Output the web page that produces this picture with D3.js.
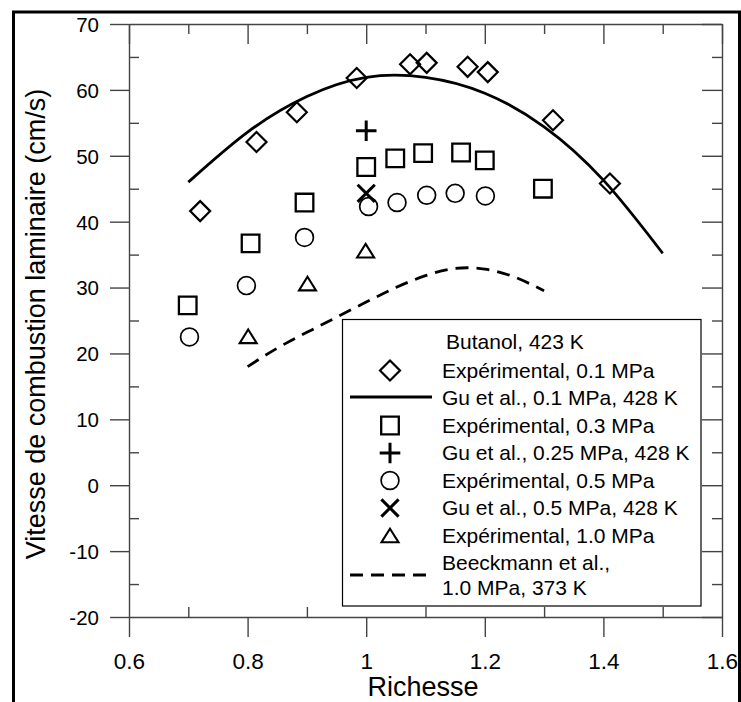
<!DOCTYPE html>
<html>
<head>
<meta charset="utf-8">
<script src="https://cdn.jsdelivr.net/npm/d3@7"></script>
<style>
  html, body { margin: 0; padding: 0; background: #fff; }
  svg { display: block; }
  text { font-family: "Liberation Sans", Arial, Helvetica, sans-serif; fill: #000; }
</style>
</head>
<body>
<svg id="chart" width="741" height="702"></svg>
<script>
// Richesse (equivalence ratio) and laminar burning velocity (cm/s), butanol at 423 K
const expPhi01 = [0.72, 0.815, 0.883, 0.984, 1.074, 1.102, 1.171, 1.205, 1.315, 1.411];
const expSu01  = [41.6, 52.1, 56.6, 61.8, 63.9, 64.1, 63.5, 62.7, 55.4, 45.8];

const guPhi01 = [0.7, 0.8, 0.9, 1.0, 1.1, 1.2, 1.3, 1.4, 1.5];
const guSu01  = [46.0, 53.6, 59.0, 61.9, 61.9, 59.5, 54.4, 46.3, 35.2];

const expPhi03 = [0.699, 0.805, 0.896, 1.0, 1.049, 1.096, 1.16, 1.2, 1.298];
const expSu03  = [27.3, 36.7, 42.9, 48.3, 49.6, 50.4, 50.5, 49.3, 45.0];

const guPhi025 = [1.0];
const guSu025  = [53.8];

const expPhi05 = [0.702, 0.798, 0.896, 1.004, 1.052, 1.102, 1.15, 1.201];
const expSu05  = [22.5, 30.3, 37.6, 42.3, 42.9, 44.0, 44.3, 43.9];

const guPhi05 = [1.0];
const guSu05  = [44.3];

const expPhi10 = [0.801, 0.901, 0.999];
const expSu10  = [22.6, 30.6, 35.6];

const beePhi10 = [0.8, 0.85, 0.9, 0.95, 1.0, 1.05, 1.1, 1.15, 1.2, 1.25, 1.3];
const beeSu10  = [18.0, 20.8, 23.2, 25.5, 27.8, 30.0, 31.8, 32.9, 32.8, 31.6, 29.5];

const xTicks = [0.6, 0.8, 1.0, 1.2, 1.4, 1.6];
const xMinor = [0.7, 0.9, 1.1, 1.3, 1.5];
const yTicks = [-20, -10, 0, 10, 20, 30, 40, 50, 60, 70];
const yMinor = [-15, -5, 5, 15, 25, 35, 45, 55, 65];
const xTickLabels = ["0.6", "0.8", "1", "1.2", "1.4", "1.6"];
const yTickLabels = ["-20", "-10", "0", "10", "20", "30", "40", "50", "60", "70"];

const legendTitle = "Butanol, 423 K";
const legendLabels = [
  "Expérimental, 0.1 MPa",
  "Gu et al., 0.1 MPa, 428 K",
  "Expérimental, 0.3 MPa",
  "Gu et al., 0.25 MPa, 428 K",
  "Expérimental, 0.5 MPa",
  "Gu et al., 0.5 MPa, 428 K",
  "Expérimental, 1.0 MPa",
  ["Beeckmann et al.,", "1.0 MPa, 373 K"]
];

const xTitle = "Richesse";
const yTitle = "Vitesse de combustion laminaire (cm/s)";

// ---- layout ----
const svg = d3.select("#chart");
const plotL = 129, plotR = 722, plotT = 24, plotB = 617;
const x = d3.scaleLinear().domain([0.6, 1.6]).range([plotL, plotR]);
const y = d3.scaleLinear().domain([-20, 70]).range([plotB, plotT]);

// outer frame
svg.append("rect")
  .attr("x", 13.5).attr("y", 12).attr("width", 726).attr("height", 710)
  .attr("fill", "none").attr("stroke", "#000").attr("stroke-width", 3);

const axisColor = "#444";
function styleAxis(g) {
  g.selectAll("path.domain").attr("stroke", axisColor).attr("stroke-width", 1.4);
  g.selectAll(".tick line").attr("stroke", axisColor).attr("stroke-width", 1.4);
}
const axes = svg.append("g");

// left axis: outward majors with labels, inward minors
const gL = axes.append("g").attr("transform", `translate(${plotL},0)`)
  .call(d3.axisLeft(y).tickValues(yTicks).tickSizeInner(19).tickSizeOuter(0).tickPadding(11)
    .tickFormat((d, i) => yTickLabels[i]));
gL.selectAll(".tick text").attr("font-size", 20.5).attr("dy", "0.36em")
  .attr("font-family", "Liberation Sans, Arial, sans-serif");
axes.append("g").attr("transform", `translate(${plotL},0)`)
  .call(d3.axisLeft(y).tickValues(yMinor).tickSizeInner(-10).tickSizeOuter(0).tickFormat(""))
  .call(g => g.select("path.domain").remove());

// bottom axis
const gB = axes.append("g").attr("transform", `translate(0,${plotB})`)
  .call(d3.axisBottom(x).tickValues(xTicks).tickSizeInner(20).tickSizeOuter(0).tickPadding(16)
    .tickFormat((d, i) => xTickLabels[i]));
gB.selectAll(".tick text").attr("font-size", 22.5).attr("dy", "0.71em")
  .attr("font-family", "Liberation Sans, Arial, sans-serif");
axes.append("g").attr("transform", `translate(0,${plotB})`)
  .call(d3.axisBottom(x).tickValues(xMinor).tickSizeInner(-10).tickSizeOuter(0).tickFormat(""))
  .call(g => g.select("path.domain").remove());

// top axis: all ticks inward
axes.append("g").attr("transform", `translate(0,${plotT})`)
  .call(d3.axisTop(x).tickValues(xTicks).tickSizeInner(-20).tickSizeOuter(0).tickFormat(""));
axes.append("g").attr("transform", `translate(0,${plotT})`)
  .call(d3.axisTop(x).tickValues(xMinor).tickSizeInner(-10).tickSizeOuter(0).tickFormat(""))
  .call(g => g.select("path.domain").remove());

// right axis: all ticks inward
axes.append("g").attr("transform", `translate(${plotR},0)`)
  .call(d3.axisRight(y).tickValues(yTicks).tickSizeInner(-20).tickSizeOuter(0).tickFormat(""));
axes.append("g").attr("transform", `translate(${plotR},0)`)
  .call(d3.axisRight(y).tickValues(yMinor).tickSizeInner(-10).tickSizeOuter(0).tickFormat(""))
  .call(g => g.select("path.domain").remove());

axes.selectAll("g").call(styleAxis);

// axis titles
svg.append("text")
  .attr("x", 423).attr("y", 696)
  .attr("text-anchor", "middle").attr("font-size", 27)
  .text(xTitle);
svg.append("text")
  .attr("transform", `translate(45,324) rotate(-90)`)
  .attr("text-anchor", "middle").attr("font-size", 27)
  .text(yTitle);

// ---- marker shapes (centred on 0,0) ----
const shapes = {
  diamond: () => { const p = d3.path(), r = 10; p.moveTo(0, -r); p.lineTo(r, 0); p.lineTo(0, r); p.lineTo(-r, 0); p.closePath(); return p.toString(); },
  square: () => { const p = d3.path(), h = 8.8; p.rect(-h, -h, 2 * h, 2 * h); return p.toString(); },
  circle: () => { const p = d3.path(); p.arc(0, 0, 8.9, 0, 2 * Math.PI); return p.toString(); },
  triangle: () => { const p = d3.path(), w = 8.5, h = 6.8; p.moveTo(0, -h); p.lineTo(w, h); p.lineTo(-w, h); p.closePath(); return p.toString(); },
  plus: () => { const p = d3.path(), r = 10.3; p.moveTo(-r, 0); p.lineTo(r, 0); p.moveTo(0, -r); p.lineTo(0, r); return p.toString(); },
  cross: () => { const p = d3.path(), r = 8.6; p.moveTo(-r, -r); p.lineTo(r, r); p.moveTo(-r, r); p.lineTo(r, -r); return p.toString(); }
};
const strokeW = { diamond: 2.2, square: 2.3, circle: 1.7, triangle: 2.1, plus: 3, cross: 3 };

function drawMarkers(phi, su, shape) {
  svg.append("g").selectAll("path")
    .data(phi.map((p, i) => ({ p, s: su[i] })))
    .join("path")
    .attr("transform", d => `translate(${x(d.p)},${y(d.s)})`)
    .attr("d", shapes[shape]())
    .attr("fill", "none").attr("stroke", "#000")
    .attr("stroke-width", strokeW[shape]);
}

// curves
const line = d3.line().x(d => x(d.p)).y(d => y(d.s)).curve(d3.curveNatural);
svg.append("path")
  .datum(guPhi01.map((p, i) => ({ p, s: guSu01[i] })))
  .attr("d", line).attr("fill", "none").attr("stroke", "#000").attr("stroke-width", 2.8);
svg.append("path")
  .datum(beePhi10.map((p, i) => ({ p, s: beeSu10[i] })))
  .attr("d", line).attr("fill", "none").attr("stroke", "#000").attr("stroke-width", 2.8)
  .attr("stroke-dasharray", "13,8");

drawMarkers(expPhi01, expSu01, "diamond");
drawMarkers(expPhi03, expSu03, "square");
drawMarkers(guPhi025, guSu025, "plus");
drawMarkers(expPhi05, expSu05, "circle");
drawMarkers(guPhi05, guSu05, "cross");
drawMarkers(expPhi10, expSu10, "triangle");

// ---- legend ----
const lg = svg.append("g");
lg.append("rect")
  .attr("x", 342.5).attr("y", 319.5).attr("width", 358.5).attr("height", 286.5)
  .attr("fill", "#fff").attr("stroke", "#000").attr("stroke-width", 1.2);
lg.append("text").attr("x", 446).attr("y", 349).attr("font-size", 21).text(legendTitle);

const legendKeys = ["diamond", "line", "square", "plus", "circle", "cross", "triangle", "dash"];
const rowY = i => 377.5 + i * 27.5;
legendLabels.forEach((lab, i) => {
  const t = lg.append("text").attr("x", 442).attr("y", rowY(i)).attr("font-size", 21);
  if (Array.isArray(lab)) {
    lab.forEach((s, j) => t.append("tspan").attr("x", 442).attr("dy", j === 0 ? 0 : 24.5).text(s));
  } else {
    t.text(lab);
  }
  const key = legendKeys[i];
  const cy = rowY(i) - 7;
  if (key === "line" || key === "dash") {
    lg.append("line")
      .attr("x1", 350).attr("x2", 432)
      .attr("y1", key === "dash" ? cy + 12 : cy - 1).attr("y2", key === "dash" ? cy + 12 : cy - 1)
      .attr("stroke", "#000").attr("stroke-width", 2.8)
      .attr("stroke-dasharray", key === "dash" ? "13,8" : null);
  } else {
    lg.append("path")
      .attr("transform", `translate(390,${cy})`)
      .attr("d", shapes[key]())
      .attr("fill", "none").attr("stroke", "#000").attr("stroke-width", strokeW[key]);
  }
});
</script>
</body>
</html>
